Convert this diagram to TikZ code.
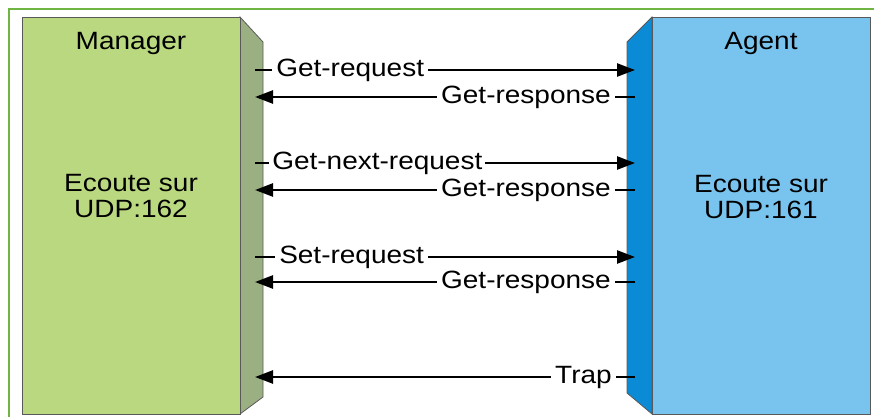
\documentclass[tikz,border=0pt]{standalone}
\usepackage{fontspec}
\setmainfont{Liberation Sans}
\usepackage{graphicx}
\usetikzlibrary{arrows.meta}
\definecolor{framegreen}{HTML}{70B543}
\definecolor{mgrfront}{HTML}{BAD880}
\definecolor{mgrside}{HTML}{9BB082}
\definecolor{agtfront}{HTML}{78C4EE}
\definecolor{agtside}{HTML}{0B8BD5}
\newcommand{\wide}[1]{\scalebox{1.12}[1]{#1}}
\tikzset{
	msg/.style={line width=2.5pt, -{Triangle[length=18pt,width=13pt]}},
	msglabel/.style={fill=white, inner xsep=4pt, inner ysep=1pt, font=\fontsize{25}{26}\selectfont},
	boxtext/.style={align=center, inner sep=0pt, font=\fontsize{25}{26}\selectfont}
}

\begin{document}
\begin{tikzpicture}[x=1pt, y=-1pt]
			%%%%% START %%%%%
			\useasboundingbox (0, 0) rectangle (874, 417);
			
			\draw[line width=2.5pt, color=framegreen] (9, 417) -- (9, 9) -- (874, 9);
			
			% manager block
			\draw[fill=mgrside, draw=black!65, line width=0.8pt] (240, 17) -- (263, 42) -- (263, 397) -- (240, 414) -- cycle;
			\draw[fill=mgrfront, draw=black!65, line width=0.8pt] (22, 17) rectangle (240, 414);
			\node[boxtext, anchor=base] (manager) at (131, 50) {\wide{Manager}};
			\node[boxtext] (mecoute) at (131, 196) {\wide{Ecoute sur}\\\wide{UDP:162}};
			
			% agent block
			\draw[fill=agtside, draw=black!65, line width=0.8pt] (652, 17) -- (627, 42) -- (627, 393) -- (652, 414) -- cycle;
			\draw[fill=agtfront, draw=black!65, line width=0.8pt] (652, 17) rectangle (870, 414);
			\node[boxtext, anchor=base] (agent) at (761, 50) {\wide{Agent}};
			\node[boxtext] (aecoute) at (761, 197) {\wide{Ecoute sur}\\\wide{UDP:161}};
			
			\coordinate (m1) at (255, 70);  \coordinate (a1) at (635, 70);
			\coordinate (m2) at (255, 97);  \coordinate (a2) at (635, 97);
			\coordinate (m3) at (255, 163); \coordinate (a3) at (635, 163);
			\coordinate (m4) at (255, 190); \coordinate (a4) at (635, 190);
			\coordinate (m5) at (255, 257); \coordinate (a5) at (635, 257);
			\coordinate (m6) at (255, 282); \coordinate (a6) at (635, 282);
			\coordinate (m7) at (255, 377); \coordinate (a7) at (635, 377);
			
			% messages
			\draw[msg] (m1) -- (a1) node[msglabel, at start, anchor=west, xshift=16pt] (getreq) {\wide{Get-request}};
			\draw[msg] (a2) -- (m2) node[msglabel, at start, anchor=east, xshift=-19pt] (getresp1) {\wide{Get-response}};
			\draw[msg] (m3) -- (a3) node[msglabel, at start, anchor=west, xshift=13pt, inner xsep=3pt] (getnext) {\wide{Get-next-request}};
			\draw[msg] (a4) -- (m4) node[msglabel, at start, anchor=east, xshift=-19pt] (getresp2) {\wide{Get-response}};
			\draw[msg] (m5) -- (a5) node[msglabel, at start, anchor=west, xshift=19pt] (setreq) {\wide{Set-request}};
			\draw[msg] (a6) -- (m6) node[msglabel, at start, anchor=east, xshift=-19pt] (getresp3) {\wide{Get-response}};
			\draw[msg] (a7) -- (m7) node[msglabel, at start, anchor=east, xshift=-18pt] (trap) {\wide{Trap}};
			
			%%%%% END %%%%%
\end{tikzpicture}
\end{document}
